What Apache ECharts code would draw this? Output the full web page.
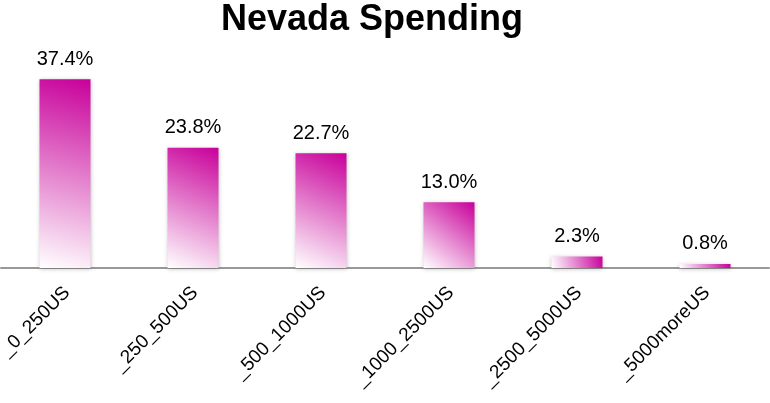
<!DOCTYPE html>
<html><head><meta charset="utf-8">
<script src="https://cdn.jsdelivr.net/npm/echarts@6/dist/echarts.min.js"></script>
<style>html,body{margin:0;padding:0;background:#fff}#c{width:770px;height:403px}</style>
</head><body><div id="c"></div>
<script>
var categories = ['_0_250US','_250_500US','_500_1000US','_1000_2500US','_2500_5000US','_5000moreUS'];
var values = [37.4, 23.8, 22.7, 13.0, 2.3, 0.8];
var chart = echarts.init(document.getElementById('c'));
chart.setOption({
  animation:false,
  title:{text:'Nevada Spending',left:216,top:-3,textStyle:{fontFamily:'Liberation Sans',fontWeight:'bold',fontSize:36,color:'#000'}},
  grid:{left:1,right:1,top:66,bottom:135,outerBoundsMode:'none',containLabel:false},
  xAxis:{type:'category',data:categories,
    axisLine:{lineStyle:{color:'#999',width:2}},axisTick:{show:false},
    axisLabel:{rotate:45,fontFamily:'Liberation Sans',fontSize:19,color:'#000',margin:24,interval:0,padding:[0,-3,0,0]}},
  yAxis:{type:'value',min:0,max:40,show:false,splitLine:{show:false}},
  series:[{type:'bar',data:values,barWidth:51,
    label:{show:true,position:'top',distance:10,fontFamily:'Liberation Sans',fontSize:20,color:'#000',formatter:function(p){return p.value.toFixed(1)+'%';}},
    itemStyle:{color:new echarts.graphic.LinearGradient(1,0,0,1,[{offset:0,color:'#c8009a'},{offset:1,color:'#ffffff'}]),
      shadowColor:'rgba(0,0,0,0.25)',shadowBlur:4,shadowOffsetX:0,shadowOffsetY:1}}]
});
</script></body></html>
